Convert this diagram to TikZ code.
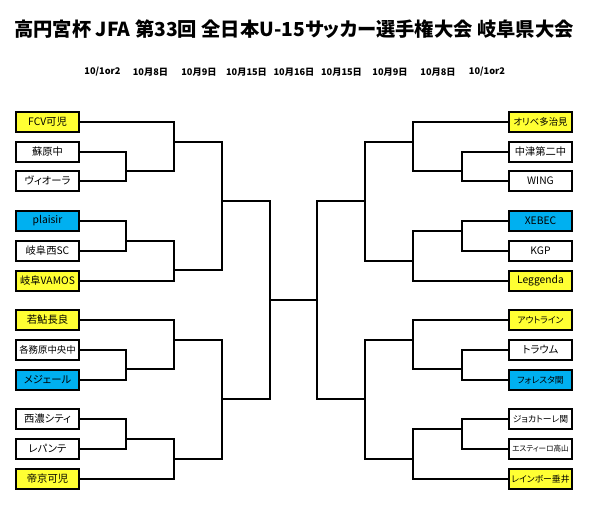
\documentclass[tikz,border=0pt]{standalone}
\usepackage{fontspec}
\setmainfont{Noto Sans CJK JP}[RawFeature=+palt]
\definecolor{winY}{HTML}{FFFF33}
\definecolor{winB}{HTML}{00B0F0}

\begin{document}
\begin{tikzpicture}[x=1pt,y=-1pt,
	team/.style={draw=black,line width=1.3pt,fill=white,minimum width=63pt,minimum height=20pt,inner sep=0pt,font=\fontsize{10.3}{11}\selectfont},
	teamY/.style={team,fill=winY},
	teamB/.style={team,fill=winB},
	mid/.style={font=\fontsize{9.4}{10}\selectfont},
	small/.style={font=\fontsize{8.8}{9}\selectfont},
	tiny/.style={font=\fontsize{7.6}{8}\selectfont},
	day/.style={font=\fontsize{9.2}{10}\selectfont\bfseries},
	bline/.style={draw=black,line width=1.1pt}]
			\useasboundingbox (0,0) rectangle (600,508);
			\node[font=\fontsize{19.3}{20}\selectfont\bfseries] (title) at (294,29) {高円宮杯 JFA 第33回 全日本U-15サッカー選手権大会 岐阜県大会};
			\node[day] (dt1) at (102.5,72) {10/1or2};
			\node[day] (dt2) at (150.5,72) {10月8日};
			\node[day] (dt3) at (199,72) {10月9日};
			\node[day] (dt4) at (246.5,72) {10月15日};
			\node[day] (dt5) at (294,72) {10月16日};
			\node[day] (dt6) at (341.5,72) {10月15日};
			\node[day] (dt7) at (390,72) {10月9日};
			\node[day] (dt8) at (438,72) {10月8日};
			\node[day] (dt9) at (487,72) {10/1or2};
			\node[teamY] (l1) at (47.5,122) {FCV可児};
			\node[team] (l2) at (47.5,152) {蘇原中};
			\node[team] (l3) at (47.5,181) {ヴィオーラ};
			\node[teamB] (l4) at (47.5,221) {plaisir};
			\node[team] (l5) at (47.5,251) {岐阜西SC};
			\node[teamY] (l6) at (47.5,281) {岐阜VAMOS};
			\node[teamY] (l7) at (47.5,320) {若鮎長良};
			\node[team,mid] (l8) at (47.5,350) {各務原中央中};
			\node[teamB] (l9) at (47.5,380) {メジェール};
			\node[team] (l10) at (47.5,419) {西濃シティ};
			\node[team] (l11) at (47.5,449) {レパンテ};
			\node[teamY] (l12) at (47.5,479) {帝京可児};
			\node[teamY,mid] (r1) at (540.5,122) {オリベ多治見};
			\node[team] (r2) at (540.5,152) {中津第二中};
			\node[team] (r3) at (540.5,181) {WING};
			\node[teamB] (r4) at (540.5,221) {XEBEC};
			\node[team] (r5) at (540.5,251) {KGP};
			\node[teamY] (r6) at (540.5,281) {Leggenda};
			\node[teamY,small] (r7) at (540.5,320) {アウトライン};
			\node[team] (r8) at (540.5,350) {トラウム};
			\node[teamB,small] (r9) at (540.5,380) {フォレスタ関};
			\node[team,small] (r10) at (540.5,419) {ジョカトーレ関};
			\node[team,tiny] (r11) at (540.5,449) {エスティーロ高山};
			\node[teamY,small] (r12) at (540.5,479) {レインボー垂井};
			\coordinate (a1) at (126,171);
			\coordinate (b1) at (174,142);
			\coordinate (a2) at (126,241);
			\coordinate (b2) at (174,270);
			\coordinate (c1) at (222,201);
			\coordinate (a3) at (126,369);
			\coordinate (b3) at (174,340);
			\coordinate (a4) at (126,439);
			\coordinate (b4) at (174,459);
			\coordinate (c2) at (222,399);
			\coordinate (d1) at (270,300);
			\coordinate (ra1) at (462,171);
			\coordinate (rb1) at (413,142);
			\coordinate (ra2) at (462,231);
			\coordinate (rb2) at (413,261);
			\coordinate (rc1) at (365,201);
			\coordinate (ra3) at (462,369);
			\coordinate (rb3) at (413,340);
			\coordinate (ra4) at (462,429);
			\coordinate (rb4) at (413,459);
			\coordinate (rc2) at (365,399);
			\coordinate (rd1) at (317,300);
			\draw[bline] (l2.east) -| (a1) |- (l3.east);
			\draw[bline] (l1.east) -| (b1) |- (a1);
			\draw[bline] (l4.east) -| (a2) |- (l5.east);
			\draw[bline] (l6.east) -| (b2) |- (a2);
			\draw[bline] (b1) -| (c1) |- (b2);
			\draw[bline] (l8.east) -| (a3) |- (l9.east);
			\draw[bline] (l7.east) -| (b3) |- (a3);
			\draw[bline] (l10.east) -| (a4) |- (l11.east);
			\draw[bline] (l12.east) -| (b4) |- (a4);
			\draw[bline] (b3) -| (c2) |- (b4);
			\draw[bline] (c1) -| (d1) |- (c2);
			\draw[bline] (r2.west) -| (ra1) |- (r3.west);
			\draw[bline] (r1.west) -| (rb1) |- (ra1);
			\draw[bline] (r4.west) -| (ra2) |- (r5.west);
			\draw[bline] (r6.west) -| (rb2) |- (ra2);
			\draw[bline] (rb1) -| (rc1) |- (rb2);
			\draw[bline] (r8.west) -| (ra3) |- (r9.west);
			\draw[bline] (r7.west) -| (rb3) |- (ra3);
			\draw[bline] (r10.west) -| (ra4) |- (r11.west);
			\draw[bline] (r12.west) -| (rb4) |- (ra4);
			\draw[bline] (rb3) -| (rc2) |- (rb4);
			\draw[bline] (rc1) -| (rd1) |- (rc2);
			\draw[bline] (d1) -- (rd1);
		\end{tikzpicture}
\end{document}
